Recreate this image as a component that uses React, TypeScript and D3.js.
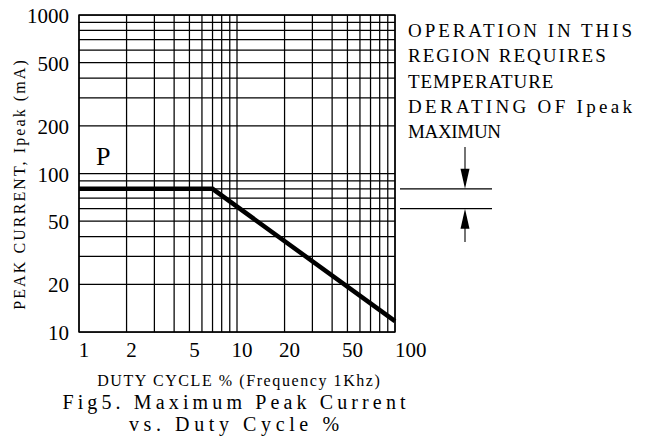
import React from "react";
import * as d3 from "d3";

// ---- data ----
const dutyTicks = [1, 2, 5, 10, 20, 50, 100];
const currentTicks = [10, 20, 50, 100, 200, 500, 1000];
const dutyCycle = [1, 7, 100];
const peakCurrent = [80, 80, 11.7];
const deratingLevels = [80, 60];
const noteLines = [
  "OPERATION IN THIS",
  "REGION REQUIRES",
  "TEMPERATURE",
  "DERATING OF Ipeak",
  "MAXIMUN",
];
const captionLines = ["Fig5. Maximum Peak Current", "vs. Duty Cycle %"];
const xTitle = "DUTY CYCLE % (Frequency 1Khz)";
const yTitle = "PEAK CURRENT, Ipeak (mA)";

const W = 656;
const H = 442;
const L = 79, R = 395, T = 15, B = 332;

export default function App() {
  const x = d3.scaleLog().domain([1, 100]).range([L, R]);
  const y = d3.scaleLog().domain([10, 1000]).range([B, T]);
  const xGrid = x.ticks();
  const yGrid = y.ticks();
  const line = d3
    .line<number>()
    .x((_, i) => x(dutyCycle[i]))
    .y((d) => y(d));
  const serif = "'Liberation Serif', 'Times New Roman', serif";
  const ax = 465;
  const notePitch = 13.1;
  const capPitch = 13.3;
  return (
    <svg
      width={W}
      height={H}
      viewBox={`0 0 ${W} ${H}`}
      style={{ position: "absolute", left: 0, top: 0, background: "#fff" }}
    >
      <rect x={0} y={0} width={W} height={H} fill="#fff" />
      {/* grid */}
      <g stroke="#000" strokeWidth={1.25} fill="none">
        {xGrid.map((v) => (
          <line key={"vx" + v} x1={x(v)} x2={x(v)} y1={T} y2={B} />
        ))}
        {yGrid.map((v) => (
          <line key={"hy" + v} x1={L} x2={R} y1={y(v)} y2={y(v)} />
        ))}
        <rect x={L} y={T} width={R - L} height={B - T} strokeWidth={1.4} />
      </g>
      {/* curve */}
      <path
        d={line(peakCurrent) || ""}
        fill="none"
        stroke="#000"
        strokeWidth={4.5}
        strokeLinejoin="miter"
      />
      {/* y tick labels */}
      <g fontFamily={serif} fontSize={21} fill="#000" textAnchor="end">
        {currentTicks.map((v) => (
          <text key={"yl" + v} x={69} y={y(v) + 8}>
            {v}
          </text>
        ))}
      </g>
      {/* x tick labels */}
      <g fontFamily={serif} fontSize={21} fill="#000">
        {dutyTicks.map((v, i) => (
          <text
            key={"xl" + v}
            x={i === dutyTicks.length - 1 ? x(v) : x(v) + 5}
            y={357}
            textAnchor={i === dutyTicks.length - 1 ? "start" : "middle"}
          >
            {v}
          </text>
        ))}
      </g>
      {/* P label */}
      <text x={96} y={165} fontFamily={serif} fontSize={26} fill="#000">
        P
      </text>
      {/* axis titles */}
      <text
        x={238.5}
        y={386}
        fontFamily={serif}
        fontSize={16}
        textAnchor="middle"
        fill="#000"
        textLength={xTitle.length * 9.75}
        lengthAdjust="spacing"
      >
        {xTitle}
      </text>
      <text
        transform="translate(25,185) rotate(-90)"
        fontFamily={serif}
        fontSize={16}
        textAnchor="middle"
        fill="#000"
        textLength={yTitle.length * 10.4}
        lengthAdjust="spacing"
      >
        {yTitle}
      </text>
      {/* note */}
      <g fontFamily={serif} fontSize={19} fill="#000">
        {noteLines.map((s, i) => (
          <text
            key={"n" + i}
            x={408}
            y={37 + i * 25.3}
            xmlSpace="preserve"
            textLength={(s.length + 0.1) * notePitch}
            lengthAdjust="spacing"
          >
            {s}
          </text>
        ))}
      </g>
      {/* derating annotation */}
      <g stroke="#000" strokeWidth={1.1} fill="#000">
        {deratingLevels.map((v) => (
          <line key={"dl" + v} x1={400} x2={492} y1={y(v)} y2={y(v)} />
        ))}
        <line x1={ax} x2={ax} y1={147} y2={y(deratingLevels[0]) - 18} />
        <path
          d={`M${ax - 4.5},${y(deratingLevels[0]) - 20} L${ax + 4.5},${y(deratingLevels[0]) - 20} L${ax},${y(deratingLevels[0])} Z`}
          stroke="none"
        />
        <line x1={ax} x2={ax} y1={y(deratingLevels[1]) + 18} y2={242} />
        <path
          d={`M${ax - 4.5},${y(deratingLevels[1]) + 20} L${ax + 4.5},${y(deratingLevels[1]) + 20} L${ax},${y(deratingLevels[1])} Z`}
          stroke="none"
        />
      </g>
      {/* caption */}
      <g fontFamily={serif} fontSize={20} fill="#000" textAnchor="middle">
        {captionLines.map((s, i) => (
          <text
            key={"c" + i}
            x={234}
            y={409 + i * 22}
            xmlSpace="preserve"
            textLength={(s.length - 0.2) * capPitch}
            lengthAdjust="spacing"
          >
            {s}
          </text>
        ))}
      </g>
    </svg>
  );
}
